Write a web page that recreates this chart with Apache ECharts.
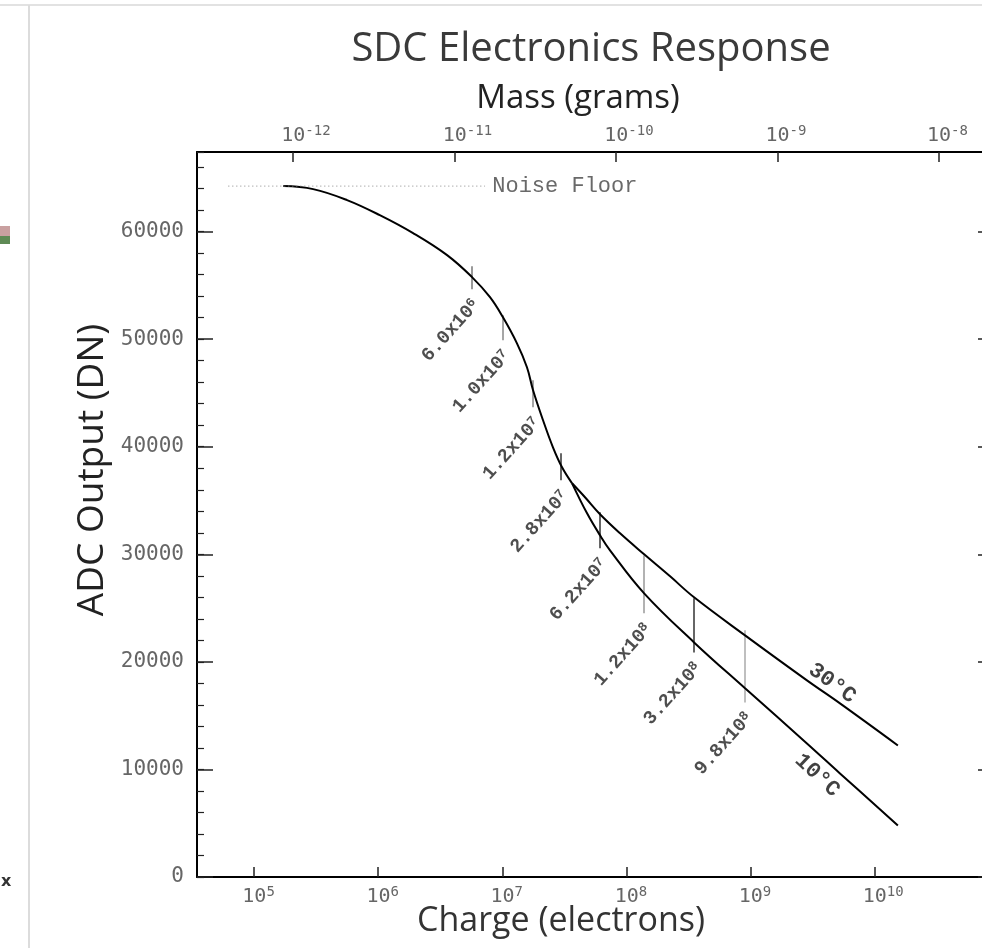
<!DOCTYPE html>
<html>
<head>
<meta charset="utf-8">
<title>SDC Electronics Response</title>
<script src="https://cdn.jsdelivr.net/npm/echarts@6/dist/echarts.min.js"></script>
<style>
  html, body { margin: 0; padding: 0; background: #fff; width: 982px; height: 948px; overflow: hidden; }
  /* plot box runs a little past the right edge of the window */
  #chart { width: 1000px; height: 948px; }
</style>
</head>
<body>
<div id="chart"></div>
<script>
// 共同段 charge (electrons) / ADC (DN)
const commonCharge = [1.72e5, 2.99e5, 5.61e5, 1.03e6, 1.91e6, 3.59e6, 5.70e6, 7.96e6, 1.01e7, 1.31e7, 1.58e7, 1.77e7, 2.13e7, 2.56e7, 3.03e7, 3.65e7]
const commonAdc = [64230, 63950, 62930, 61530, 59860, 57810, 55770, 53900, 52050, 49630, 47390, 45250, 42460, 39950, 38090, 36600]
// 30°C branch
const warmCharge = [3.65e7, 4.64e7, 6.13e7, 8.89e7, 1.39e8, 2.25e8, 3.51e8, 9.04e8, 2.85e9, 5.26e9, 1.54e10]
const warmAdc = [36600, 35300, 33720, 31950, 30000, 27950, 26000, 22460, 18280, 16140, 12230]
// 10°C branch
const coldCharge = [3.65e7, 4.82e7, 6.13e7, 7.38e7, 1.39e8, 3.51e8, 9.04e8, 2.85e9, 5.26e9, 1.54e10]
const coldAdc = [36600, 33810, 31770, 30370, 26370, 21810, 17540, 12420, 9630, 4790]

// noise floor
const noiseCharge = [6.2e4, 7.26e6]
const noiseAdc = 64230
const noiseLabelCharge = 8.3e6

// marker ticks on the curves
const markCharge = [5.70e6, 1.01e7, 1.77e7, 2.96e7, 6.13e7, 1.39e8, 3.51e8, 9.04e8]
const markTop = [56790, 52230, 46190, 39390, 33910, 29910, 25910, 22930]
const markBottom = [54650, 49910, 43670, 36880, 30560, 24510, 20880, 16230]
const markMantissa = ['6.0', '1.0', '1.2', '2.8', '6.2', '1.2', '3.2', '9.8']
const markExponent = [6, 7, 7, 7, 7, 8, 8, 8]
const markColor = ['#777', '#888', '#888', '#333', '#333', '#999', '#333', '#aaa']

// temperature labels
const tempNames = ['30°C', '10°C']
const tempCharge = [4.54e9, 3.44e9]
const tempAdc = [18000, 9440]
const tempAngle = [-36, -43]

// axis ticks
const chargeTicks = [5, 6, 7, 8, 9, 10]
const massTicks = [-12, -11, -10, -9, -8]
const adcTicks = [0, 10000, 20000, 30000, 40000, 50000, 60000]

const chargeMin = 4.54, chargeMax = 10.946
const massMin = -12.594, massMax = -7.671
const adcMax = 67400

const mono = 'DejaVu Sans Mono'
const courier = 'Liberation Mono'

const toPoints = (xs, ys) => xs.map((c, i) => [Math.log10(c), ys[i]])

// 10^n 标签
const powRich = {
  b1: { fontFamily: mono, fontSize: 20, color: '#666', lineHeight: 24, padding: [0, 0, 0, 9] },
  b2: { fontFamily: mono, fontSize: 20, color: '#666', lineHeight: 24, padding: [0, 0, 0, 17] },
  b3: { fontFamily: mono, fontSize: 20, color: '#666', lineHeight: 24, padding: [0, 0, 0, 26] },
  s: { fontFamily: mono, fontSize: 14, color: '#666', verticalAlign: 'top', lineHeight: 14 }
}
function powLabel(v) {
  const e = String(Math.round(v))
  return `{b${e.length}|10}{s|${e}}`
}

const chart = echarts.init(document.querySelector('#chart'))

const axisLine = { onZero: false, lineStyle: { color: '#000', width: 2 } }

const option = {
  animation: false,
  backgroundColor: '#fff',
  grid: { left: 197, top: 152, width: 795, height: 725 },
  xAxis: [
    {
      type: 'value', position: 'bottom', min: chargeMin, max: chargeMax,
      axisLine: axisLine,
      axisTick: { inside: true, length: 10, customValues: chargeTicks, lineStyle: { color: '#222', width: 1.5 } },
      axisLabel: { customValues: chargeTicks, formatter: powLabel, rich: powRich, margin: 8 },
      splitLine: { show: false }
    },
    {
      type: 'value', position: 'top', min: massMin, max: massMax,
      axisLine: axisLine,
      axisTick: { inside: true, length: 10, customValues: massTicks, lineStyle: { color: '#222', width: 1.5 } },
      axisLabel: { customValues: massTicks, formatter: powLabel, rich: powRich, margin: 4 },
      splitLine: { show: false }
    }
  ],
  yAxis: [
    {
      type: 'value', position: 'left', min: 0, max: adcMax,
      axisLine: axisLine,
      axisTick: { inside: true, length: 16, customValues: adcTicks, lineStyle: { color: '#222', width: 1.5 } },
      axisLabel: { customValues: adcTicks, formatter: v => String(v), fontFamily: mono, fontSize: 21, color: '#666', margin: 13 },
      splitLine: { show: false }
    },
    {
      // minor ticks
      type: 'value', position: 'left', min: 0, max: adcMax, interval: 2000,
      axisLine: { show: false, onZero: false },
      axisTick: { inside: true, length: 7, lineStyle: { color: '#222', width: 1.2 } },
      axisLabel: { show: false },
      splitLine: { show: false }
    },
    {
      type: 'value', position: 'right', min: 0, max: adcMax,
      axisLine: axisLine,
      axisTick: { inside: true, length: 14, customValues: adcTicks, lineStyle: { color: '#222', width: 1.5 } },
      axisLabel: { show: false },
      splitLine: { show: false }
    }
  ],
  series: [
    {
      name: 'common', type: 'line', data: toPoints(commonCharge, commonAdc),
      showSymbol: false, smooth: 0.4, lineStyle: { color: '#000', width: 2 }, silent: true
    },
    {
      name: '30°C', type: 'line', data: toPoints(warmCharge, warmAdc),
      showSymbol: false, smooth: 0.4, lineStyle: { color: '#000', width: 2 }, silent: true
    },
    {
      name: '10°C', type: 'line', data: toPoints(coldCharge, coldAdc),
      showSymbol: false, smooth: 0.4, lineStyle: { color: '#000', width: 2 }, silent: true
    },
    {
      name: 'noise', type: 'line', data: noiseCharge.map(c => [Math.log10(c), noiseAdc]),
      showSymbol: false, lineStyle: { color: '#888', width: 1, type: [1, 3] }, silent: true
    },
    {
      name: 'marks', type: 'lines', coordinateSystem: 'cartesian2d',
      data: markCharge.map((c, i) => ({
        coords: [[Math.log10(c), markTop[i]], [Math.log10(c), markBottom[i]]],
        lineStyle: { color: markColor[i], width: 1.5 }
      })),
      lineStyle: { opacity: 1 }, silent: true
    },
    {
      name: 'markLabels', type: 'scatter', symbolSize: 1, itemStyle: { color: 'rgba(0,0,0,0)' },
      data: markCharge.map((c, i) => [Math.log10(c), markBottom[i]]),
      label: {
        show: true, position: 'inside', align: 'right', verticalAlign: 'middle',
        rotate: 48, offset: [-7, 12],
        formatter: p => `{m|${markMantissa[p.dataIndex]}x10}{e|${markExponent[p.dataIndex]}}`,
        rich: {
          m: { fontFamily: courier, fontWeight: 'bold', fontSize: 19, color: '#222', lineHeight: 20 },
          e: { fontFamily: courier, fontWeight: 'bold', fontSize: 13, color: '#222', verticalAlign: 'top', lineHeight: 13 }
        }
      },
      silent: true
    },
    {
      name: 'tempLabels', type: 'scatter', symbolSize: 1, itemStyle: { color: 'rgba(0,0,0,0)' },
      data: tempCharge.map((c, i) => ({
        value: [Math.log10(c), tempAdc[i]],
        label: { rotate: tempAngle[i] }
      })),
      label: {
        show: true, position: 'inside', align: 'center', verticalAlign: 'middle',
        formatter: p => tempNames[p.dataIndex],
        fontFamily: courier, fontWeight: 'bold', fontSize: 22, color: '#111'
      },
      silent: true
    },
    {
      name: 'noiseLabel', type: 'scatter', symbolSize: 1, itemStyle: { color: 'rgba(0,0,0,0)' },
      data: [[Math.log10(noiseLabelCharge), noiseAdc]],
      label: {
        show: true, position: 'inside', align: 'left', verticalAlign: 'middle',
        formatter: 'Noise Floor', fontFamily: courier, fontSize: 22, color: '#444'
      },
      silent: true
    }
  ],
  graphic: [
    // 外框
    { type: 'line', shape: { x1: 0, y1: 5, x2: 982, y2: 5 }, style: { stroke: '#e2e2e2', lineWidth: 2 }, silent: true },
    { type: 'line', shape: { x1: 29, y1: 5, x2: 29, y2: 948 }, style: { stroke: '#dcdcdc', lineWidth: 2 }, silent: true },
    { type: 'rect', shape: { x: 0, y: 226, width: 10, height: 10 }, style: { fill: '#c9a0a0' }, silent: true },
    { type: 'rect', shape: { x: 0, y: 236, width: 10, height: 8 }, style: { fill: '#5f8a55' }, silent: true },
    { type: 'text', x: 1, y: 882, style: { text: 'x', font: 'bold 16px DejaVu Sans', fill: '#333', verticalAlign: 'middle' }, silent: true },
    // 标题
    { type: 'text', x: 591, y: 50, style: { text: 'SDC Electronics Response', font: '40px "Open Sans"', fill: '#3a3a3a', align: 'center', verticalAlign: 'middle' }, silent: true },
    { type: 'text', x: 578, y: 99, style: { text: 'Mass (grams)', font: '33px "Open Sans"', fill: '#222', align: 'center', verticalAlign: 'middle' }, silent: true },
    { type: 'text', x: 561, y: 921, style: { text: 'Charge (electrons)', font: '34px "Open Sans"', fill: '#333', align: 'center', verticalAlign: 'middle' }, silent: true },
    { type: 'text', x: 92, y: 470, rotation: Math.PI / 2, style: { text: 'ADC Output (DN)', font: '37px "Open Sans"', fill: '#222', align: 'center', verticalAlign: 'middle' }, silent: true }
  ]
}

chart.setOption(option)
</script>
</body>
</html>
